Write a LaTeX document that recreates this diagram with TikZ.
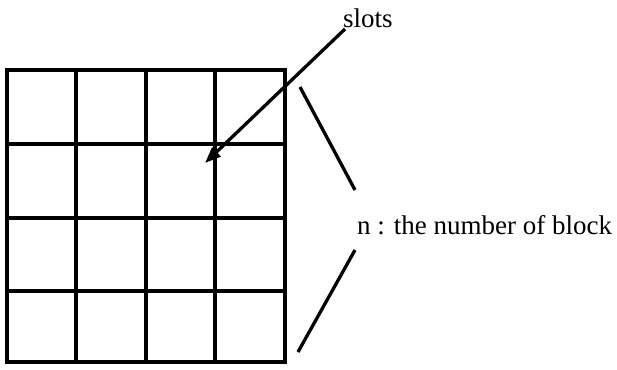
\documentclass[tikz,border=0pt]{standalone}
\usepackage{fontspec}
\setmainfont{Liberation Serif}
\usetikzlibrary{arrows.meta}
\begin{document}
\begin{tikzpicture}[x=1pt,y=-1pt,
  gridline/.style={line width=3.3pt},
  slant/.style={line width=3.3pt},
  lbl/.style={inner sep=0pt,font=\fontsize{27}{30}\selectfont},
  ptr/.style={line width=3.3pt,-{Triangle[length=16pt,width=12pt]}}]
\useasboundingbox (0,0) rectangle (617,369);
% grid
\draw[gridline] (7,70) rectangle (285,362);
\foreach \x in {76,146,215} \draw[gridline] (\x,70) -- (\x,362);
\foreach \y in {144,218,291} \draw[gridline] (7,\y) -- (285,\y);
% labels
\node[lbl,anchor=base west] (slots) at (343,28) {slots};
\node[lbl,anchor=base west] (nlabel) at (357,234) {n : the number of block};
% arrow
\coordinate (tip) at (205,163);
\draw[ptr] ([xshift=2pt,yshift=-1pt]slots.base west) -- (tip);
% slanted lines
\coordinate (a1) at (300,87);
\coordinate (a2) at (355,190);
\coordinate (b1) at (355,250);
\coordinate (b2) at (298,352);
\draw[slant] (a1) -- (a2);
\draw[slant] (b1) -- (b2);
\end{tikzpicture}
\end{document}
